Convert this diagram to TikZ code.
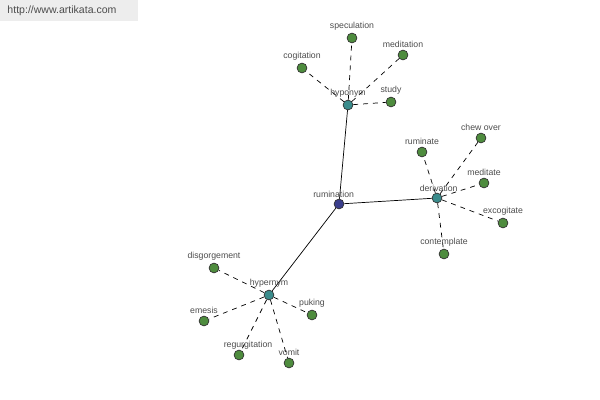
\documentclass[tikz,border=0pt]{standalone}
\usepackage{fontspec}
\setmainfont{Liberation Sans}
\usetikzlibrary{positioning}

\definecolor{leafgreen}{RGB}{78,140,62}
\definecolor{relteal}{RGB}{58,140,140}
\definecolor{rootblue}{RGB}{58,62,140}

\begin{document}
\begin{tikzpicture}[
    x=0.025cm, y=-0.025cm,
    dot/.style={circle, draw=black!80, line width=0.5pt,
                minimum size=7pt, inner sep=0pt},
    leaf/.style={dot, fill=leafgreen},
    rel/.style={dot, fill=relteal},
    root/.style={dot, fill=rootblue},
    lbl/.style={font=\fontsize{6.2}{7}\selectfont, text=black!70,
                inner sep=0.5pt},
    strong/.style={draw=black, line width=0.5pt},
    weak/.style={draw=black, line width=0.5pt, dash pattern=on 3.5pt off 3.5pt},
]
\useasboundingbox (0,0) rectangle (600,400);

% site banner
\fill[black!7] (0,0) rectangle (138,21);
\node[font=\fontsize{7.5}{9}\selectfont, text=black!70] (site) at (62,11)
     {http://www.artikata.com};

% centre and relations
\node[root] (rumination) at (339,204) {};
\node[rel] (hyponym) at (348,105) {};
\node[rel] (derivation) at (437,198) {};
\node[rel] (hypernym) at (269,295) {};

% hyponym group
\node[leaf] (speculation) at (352,38) {};
\node[leaf] (meditation) at (403,55) {};
\node[leaf] (cogitation) at (302,68) {};
\node[leaf] (study) at (391,102) {};

% derivation group
\node[leaf] (ruminate) at (422,152) {};
\node[leaf] (chewover) at (481,138) {};
\node[leaf] (meditate) at (484,183) {};
\node[leaf] (excogitate) at (503,223) {};
\node[leaf] (contemplate) at (444,254) {};

% hypernym group
\node[leaf] (disgorgement) at (214,268) {};
\node[leaf] (emesis) at (204,321) {};
\node[leaf] (puking) at (312,315) {};
\node[leaf] (regurgitation) at (239,355) {};
\node[leaf] (vomit) at (289,363) {};

% links
\draw[strong] (rumination) -- (hyponym);
\draw[strong] (rumination) -- (derivation);
\draw[strong] (rumination) -- (hypernym);

\draw[weak] (hyponym) -- (speculation);
\draw[weak] (hyponym) -- (meditation);
\draw[weak] (hyponym) -- (cogitation);
\draw[weak] (hyponym) -- (study);

\draw[weak] (derivation) -- (ruminate);
\draw[weak] (derivation) -- (chewover);
\draw[weak] (derivation) -- (meditate);
\draw[weak] (derivation) -- (excogitate);
\draw[weak] (derivation) -- (contemplate);

\draw[weak] (hypernym) -- (disgorgement);
\draw[weak] (hypernym) -- (emesis);
\draw[weak] (hypernym) -- (puking);
\draw[weak] (hypernym) -- (regurgitation);
\draw[weak] (hypernym) -- (vomit);

% labels
\node[lbl, above left=1pt and -14pt of rumination] (rumination-l) {rumination};
\node[lbl, above=1pt of hyponym] (hyponym-l) {hyponym};
\node[lbl, above left=1pt and -18pt of derivation] (derivation-l) {derivation};
\node[lbl, above=1pt of hypernym] (hypernym-l) {hypernym};

\node[lbl, above=1pt of speculation] (speculation-l) {speculation};
\node[lbl, above=1pt of meditation] (meditation-l) {meditation};
\node[lbl, above=1pt of cogitation] (cogitation-l) {cogitation};
\node[lbl, above=1pt of study] (study-l) {study};

\node[lbl, above=1pt of ruminate] (ruminate-l) {ruminate};
\node[lbl, above=1pt of chewover] (chewover-l) {chew over};
\node[lbl, above=1pt of meditate] (meditate-l) {meditate};
\node[lbl, above=1pt of excogitate] (excogitate-l) {excogitate};
\node[lbl, above=1pt of contemplate] (contemplate-l) {contemplate};

\node[lbl, above=1pt of disgorgement] (disgorgement-l) {disgorgement};
\node[lbl, above=1pt of emesis] (emesis-l) {emesis};
\node[lbl, above=1pt of puking] (puking-l) {puking};
\node[lbl, above left=1pt and -27pt of regurgitation] (regurgitation-l) {regurgitation};
\node[lbl, above=1pt of vomit] (vomit-l) {vomit};

\end{tikzpicture}
\end{document}
